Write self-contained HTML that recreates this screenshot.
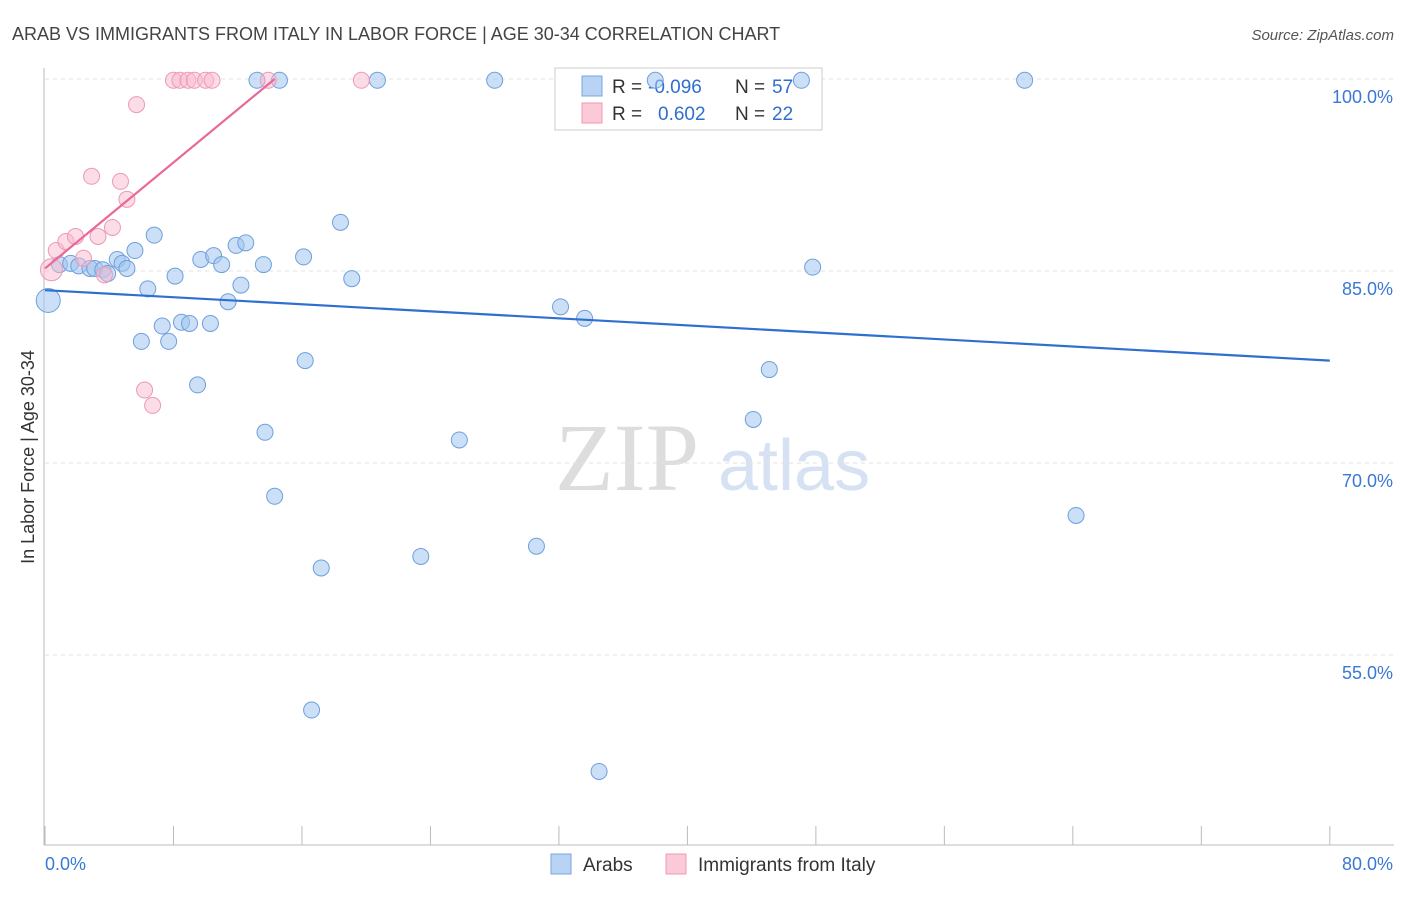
<!DOCTYPE html>
<html><head><meta charset="utf-8"><style>
body{margin:0;background:#fff;font-family:"Liberation Sans",sans-serif;}
</style></head><body>
<svg width="1406" height="892" xmlns="http://www.w3.org/2000/svg" font-family="Liberation Sans, sans-serif">
<text x="12" y="40" font-size="18" fill="#444">ARAB VS IMMIGRANTS FROM ITALY IN LABOR FORCE | AGE 30-34 CORRELATION CHART</text>
<text x="1394" y="40" font-size="15" fill="#555" text-anchor="end" font-style="italic">Source: ZipAtlas.com</text>
<g><text x="555" y="490" font-size="96" fill="#ddd" font-family="Liberation Serif, serif">ZIP</text><text x="718" y="490" font-size="72" fill="#d6e2f3">atlas</text></g>
<g id="grid"></g><g id="axes"></g>
<g>
<rect x="555" y="68" width="267" height="62" fill="#fff" stroke="#ccc"/>
<rect x="582" y="76" width="20" height="20" fill="#b9d3f5" stroke="#7aa6e0"/>
<rect x="582" y="103" width="20" height="20" fill="#fbc9d7" stroke="#ee9ab3"/>
<text x="612" y="93" font-size="19" fill="#333">R =</text>
<text x="648" y="93" font-size="19" fill="#2e6fd0">-0.096</text>
<text x="735" y="93" font-size="19" fill="#333">N =</text>
<text x="772" y="93" font-size="19" fill="#2e6fd0">57</text>
<text x="612" y="120" font-size="19" fill="#333">R =</text>
<text x="658" y="120" font-size="19" fill="#2e6fd0">0.602</text>
<text x="735" y="120" font-size="19" fill="#333">N =</text>
<text x="772" y="120" font-size="19" fill="#2e6fd0">22</text>
</g>
<g id="marks"></g>
<g>
<rect x="551" y="854" width="20" height="20" fill="#b9d3f5" stroke="#7aa6e0"/><text x="583" y="871" font-size="19" fill="#333">Arabs</text>
<rect x="666" y="854" width="20" height="20" fill="#fbc9d7" stroke="#ee9ab3"/><text x="698" y="871" font-size="19" fill="#333">Immigrants from Italy</text>
</g>
<text transform="translate(34,457) rotate(-90)" font-size="18" fill="#333" text-anchor="middle">In Labor Force | Age 30-34</text>
</svg>
<script>
const yTicks=[100,85,70,55];
const yTickLabels=["100.0%","85.0%","70.0%","55.0%"];
const xTicks=[0,8,16,24,32,40,48,56,64,72,80];
const arabX=[0.2,0.9,1.6,2.1,2.8,3.1,3.6,3.9,4.5,4.8,5.1,5.6,6.4,6.0,6.8,7.3,7.7,8.1,8.5,9.0,9.5,9.7,10.3,10.5,11.0,11.4,11.9,12.2,12.5,13.2,13.6,13.7,14.3,14.6,16.1,16.2,16.6,17.2,18.4,19.1,20.7,23.4,25.8,28.0,30.6,32.1,33.6,34.5,38.0,44.1,45.1,47.1,47.8,61.0,64.2];
const arabY=[82.7,85.5,85.6,85.4,85.2,85.2,85.1,84.8,85.9,85.6,85.2,86.6,83.6,79.5,87.8,80.7,79.5,84.6,81.0,80.9,76.1,85.9,80.9,86.2,85.5,82.6,87.0,83.9,87.2,99.9,85.5,72.4,67.4,99.9,86.1,78.0,50.7,61.8,88.8,84.4,99.9,62.7,71.8,99.9,63.5,82.2,81.3,45.9,99.9,73.4,77.3,99.9,85.3,99.9,65.9];
const italyX=[0.4,0.7,1.3,1.9,2.4,2.9,3.3,3.7,4.2,4.7,5.1,5.7,6.2,6.7,8.0,8.4,8.9,9.3,10.0,10.4,13.9,19.7];
const italyY=[85.1,86.6,87.3,87.7,86.0,92.4,87.7,84.7,88.4,92.0,90.6,98.0,75.7,74.5,99.9,99.9,99.9,99.9,99.9,99.9,99.9,99.9];
const arabTrend=[[0,83.5],[80,78.0]];
const italyTrend=[[0,85.2],[14.3,100]];
const X=v=>45+v*16.06, Y=v=>79+(100-v)*12.8;
const NS="http://www.w3.org/2000/svg";
function mk(p,t,a){const e=document.createElementNS(NS,t);for(const k in a)e.setAttribute(k,a[k]);p.appendChild(e);return e;}
const grid=document.getElementById('grid'),axes=document.getElementById('axes'),marks=document.getElementById('marks');
yTicks.forEach((t,i)=>{const l=mk(grid,'line',{x1:45,x2:1394,y1:Y(t),y2:Y(t),stroke:'#e2e2e2','stroke-dasharray':'4,4'});


const tx=mk(axes,'text',{x:1393,y:Y(t)+24,'font-size':18,fill:'#3a78d4','text-anchor':'end'});tx.textContent=yTickLabels[i];

});
const ax=mk(axes,'line',{x1:44,x2:44,y1:68,y2:845,stroke:'#bbb'});


const bx=mk(axes,'line',{x1:44,x2:1394,y1:845,y2:845,stroke:'#bbb'});


xTicks.forEach(t=>{const l=mk(axes,'line',{x1:X(t),x2:X(t),y1:826,y2:845,stroke:'#bbb'});

});
[["0.0%",45,'start'],["80.0%",1393,'end']].forEach(a=>{const t=mk(axes,'text',{x:a[1],y:870,'font-size':18,fill:'#3a78d4','text-anchor':a[2]});t.textContent=a[0];

});
arabX.forEach((x,i)=>{const c=mk(marks,'circle',{cx:X(x),cy:Y(arabY[i]),r:i==0?12:8,fill:'rgba(160,196,240,0.55)',stroke:'#6f9fdc','stroke-width':1});

});
italyX.forEach((x,i)=>{const c=mk(marks,'circle',{cx:X(x),cy:Y(italyY[i]),r:i==0?11:8,fill:'rgba(250,185,205,0.5)',stroke:'#ec9ab4','stroke-width':1});

});
const t1=mk(marks,'line',{x1:X(arabTrend[0][0]),y1:Y(arabTrend[0][1]),x2:X(arabTrend[1][0]),y2:Y(arabTrend[1][1]),stroke:'#2e6fd0','stroke-width':2.2});


const t2=mk(marks,'line',{x1:X(italyTrend[0][0]),y1:Y(italyTrend[0][1]),x2:X(italyTrend[1][0]),y2:Y(italyTrend[1][1]),stroke:'#e8699a','stroke-width':2.2});


</script>
</body></html>
